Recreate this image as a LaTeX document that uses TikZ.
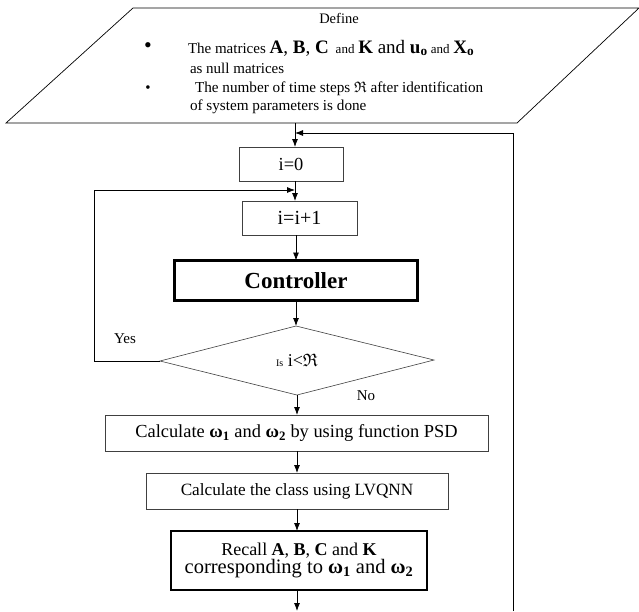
\documentclass[tikz,border=0pt]{standalone}
\usepackage{amssymb}
\usepackage{fontspec}
\setmainfont{Liberation Serif}
\usetikzlibrary{arrows.meta}
\newcommand{\om}[1]{\textbf{ω}\textsubscript{\textbf{#1}}}
\newcommand{\fs}[1]{\fontsize{#1}{#1}\selectfont}
\tikzset{
  box/.style={draw=black!75, line width=0.6pt, inner sep=0pt, outer sep=0pt, anchor=north west},
  arr/.style={-{Latex[length=8pt,width=6pt]}, line width=0.8pt},
  txt/.style={inner sep=0pt, outer sep=0pt}
}
\begin{document}
\begin{tikzpicture}[x=1pt,y=-1pt]
\useasboundingbox (0,0) rectangle (639,611);
% parallelogram
\draw[line width=0.7pt] (133,8) -- (639,8) -- (517,123) -- (6,123) -- cycle;
\coordinate (pbot) at (295,123);
\node[txt, font=\fs{14.5}] (def) at (339,18) {Define};
\node[txt, font=\fs{22}] (b1) at (148,48) {•};
\node[txt, anchor=west, font=\fs{15}] (l1) at (188,48) {The matrices {\fs{19}\textbf{A}, \textbf{B}, \textbf{C}} {\fs{13} and} {\fs{19}\textbf{K} and \textbf{u}\textsubscript{\textbf{o}}}{\fs{13} and} {\fs{19}\textbf{X}\textsubscript{\textbf{o}}}};
\node[txt, anchor=west, font=\fs{15}] (l2) at (190,68) {as null matrices};
\node[txt, font=\fs{15}] (b2) at (148,89) {•};
\node[txt, anchor=west, font=\fs{15.2}] (l3) at (195,89) {The number of time steps $\mathfrak{R}$ after identification};
\node[txt, anchor=west, font=\fs{15.2}] (l4) at (190,107) {of system parameters is done};
% boxes
\node[box, minimum width=104pt, minimum height=34pt, font=\fs{18.4}] (i0) at (239,147) {i=0};
\node[box, minimum width=115pt, minimum height=34pt, font=\fs{20}] (ii) at (242,201) {i=i+1};
\node[box, draw=black, line width=3pt, minimum width=243pt, minimum height=40pt, font=\fs{23}\bfseries] (ctrl) at (174.5,260.5) {Controller};
\coordinate (dtop) at (296,326);
\coordinate (dright) at (434,360);
\coordinate (dbot) at (297,395);
\coordinate (dleft) at (160,361);
\draw[line width=0.6pt, draw=black!75] (dtop) -- (dright) -- (dbot) -- (dleft) -- cycle;
\node[txt, font=\fs{18}] (q) at (297,360) {{\fs{10}Is} i<$\mathfrak{R}$};
\node[box, minimum width=383pt, minimum height=36pt, font=\fs{18.4}] (psd) at (105,415) {Calculate \om{1} and \om{2} by using function PSD};
\node[box, minimum width=302pt, minimum height=36pt, font=\fs{17.2}] (lvq) at (146,473) {Calculate the class using LVQNN};
\node[box, draw=black, line width=1.1pt, minimum width=256pt, minimum height=59pt, align=center] (rec) at (171,531) {{\fontsize{18}{26}\selectfont Recall \textbf{A}, \textbf{B}, \textbf{C} and \textbf{K}}\\{\fontsize{20.5}{22}\selectfont corresponding to \om{1} and \om{2}}};
\node[txt, font=\fs{15}] (yes) at (125,339) {Yes};
\node[txt, font=\fs{15}] (no) at (366,396) {No};
% connectors
\draw[arr] (pbot) -- (i0.north -| pbot);
\draw[arr] (i0.south -| pbot) -- (ii.north -| pbot);
\draw[arr] (ii.south -| dtop) -- (ctrl.north -| dtop);
\draw[arr] (ctrl.south -| dtop) -- (dtop);
\draw[arr] (dbot) -- (psd.north -| dbot);
\draw[arr] (psd.south -| dbot) -- (lvq.north -| dbot);
\draw[arr] (lvq.south -| dbot) -- (rec.north -| dbot);
\coordinate (end) at (297,611);
\draw[arr] (rec.south -| dbot) -- (end);
\coordinate (yl) at (94,361);
\coordinate (yj) at (295,190);
\draw[arr] (dleft) -- (yl) |- (yj);
\coordinate (fb) at (513,611);
\coordinate (fj) at (295,133);
\draw[arr] (fb) |- (fj);
\end{tikzpicture}
\end{document}
